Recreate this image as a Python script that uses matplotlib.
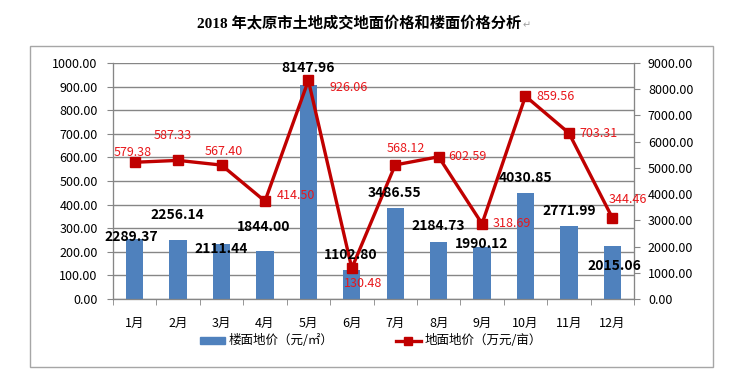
import matplotlib.pyplot as plt
from matplotlib.patches import Rectangle
from matplotlib.lines import Line2D

plt.rcParams['font.family'] = ['Noto Sans CJK SC', 'DejaVu Sans']

title = "2018 年太原市土地成交地面价格和楼面价格分析"
months = ["1月", "2月", "3月", "4月", "5月", "6月", "7月", "8月", "9月", "10月", "11月", "12月"]
# 楼面地价 (bars, right axis scale)
floor_price = [2289.37, 2256.14, 2111.44, 1844.00, 8147.96, 1102.80,
               3486.55, 2184.73, 1990.12, 4030.85, 2771.99, 2015.06]
# 地面地价 (line, left axis scale)
land_price = [579.38, 587.33, 567.40, 414.50, 926.06, 130.48,
              568.12, 602.59, 318.69, 859.56, 703.31, 344.46]
left_ticks = list(range(0, 1001, 100))
right_ticks = list(range(0, 9001, 1000))

# hand-placed label offsets (pixels), as in the original chart
bar_off = [(-3, 2), (-1, 25), (0, -5), (-1, 24), (0, 17), (-1, 15),
           (-1, 15), (0, 16), (0, 3), (0, 15), (0, 15), (2, -20)]
line_off = [(-2, 10), (-5, 25), (2, 14), (31, 6), (40, -7), (11, -15),
            (11, 16), (29, 0), (30, 0), (30, 0), (30, 0), (16, 18)]

W, H = 732, 380
gray = "#868686"
x = list(range(len(months)))

fig = plt.figure(figsize=(W / 100, H / 100), dpi=100)
# base axes: left scale + gridlines (drawn first, behind the bars)
ax = fig.add_axes([113 / W, 1 - 299 / H, (634 - 113) / W, (299 - 63) / H])
ax.set_ylim(0, 1000)
ax.set_yticks(left_ticks)
ax.set_yticklabels([f"{v:.2f}" for v in left_ticks])
ax.yaxis.grid(True, color=gray, lw=1)
ax.set_xlim(-0.5, 11.5)
ax.set_xticks(x)
ax.set_xticklabels(months)
ax.set_xticks([i - 0.5 for i in range(13)], minor=True)
ax.tick_params(axis="x", which="major", length=0, pad=13, labelsize=9)
ax.tick_params(axis="x", which="minor", length=4, color=gray, direction="out")
ax.tick_params(axis="y", length=4, color=gray, pad=7, labelsize=9)

# bars on the right scale
axb = ax.twinx()
axb.bar(x, floor_price, width=0.4, color="#4F81BD")
axb.set_ylim(0, 9000)
axb.set_yticks(right_ticks)
axb.set_yticklabels([f"{v:.2f}" for v in right_ticks])
axb.tick_params(axis="y", length=4, color=gray, pad=6, labelsize=9)

# line on the left scale, drawn on top
axl = ax.twinx()
axl.set_ylim(0, 1000)
axl.yaxis.set_visible(False)
axl.plot(x, land_price, color="#C00000", lw=2.4, marker="s", ms=7.5)

for a in (ax, axb, axl):
    a.spines["top"].set_visible(False)
    for s in ("left", "right", "bottom"):
        a.spines[s].set_color(gray)

# data labels sit above every series
for i, v in enumerate(floor_price):
    axl.annotate(f"{v:.2f}", (i, v), xycoords=axb.transData, xytext=bar_off[i],
                 textcoords="offset pixels", ha="center", va="center",
                 fontsize=10, fontweight="bold", color="black", zorder=5)
for i, v in enumerate(land_price):
    axl.annotate(f"{v:.2f}", (i, v), xytext=line_off[i], textcoords="offset pixels",
                 ha="center", va="center", fontsize=9, color="#E8171B", zorder=5)

handles = [Rectangle((0, 0), 1, 1, color="#4F81BD"),
           Line2D([], [], color="#C00000", lw=2.4, marker="s", ms=6)]
fig.legend(handles, ["楼面地价（元/㎡）", "地面地价（万元/亩）"], loc="center",
           bbox_to_anchor=(371 / W, 1 - 341 / H), ncol=2, frameon=False, fontsize=9,
           columnspacing=5.0, handlelength=2.0, handleheight=0.5, handletextpad=0.3)

fig.add_artist(Rectangle((30 / W, 1 - 367 / H), (713 - 30) / W, (367 - 46) / H,
                         transform=fig.transFigure, fill=False,
                         edgecolor="#A6A6A6", lw=1))

t = fig.text(0.49, 1 - 23 / H, title, ha="center", va="center", fontsize=11,
             fontweight="bold", family=["Liberation Serif", "Noto Sans CJK SC"])
fig.canvas.draw()
bb = t.get_window_extent()
fig.text(bb.x1 / W + 0.002, bb.y0 / H, "↵", ha="left", va="bottom",
         fontsize=7, color="#A0A0A0", family=["DejaVu Sans"])

fig.savefig("out.png", dpi=100)
